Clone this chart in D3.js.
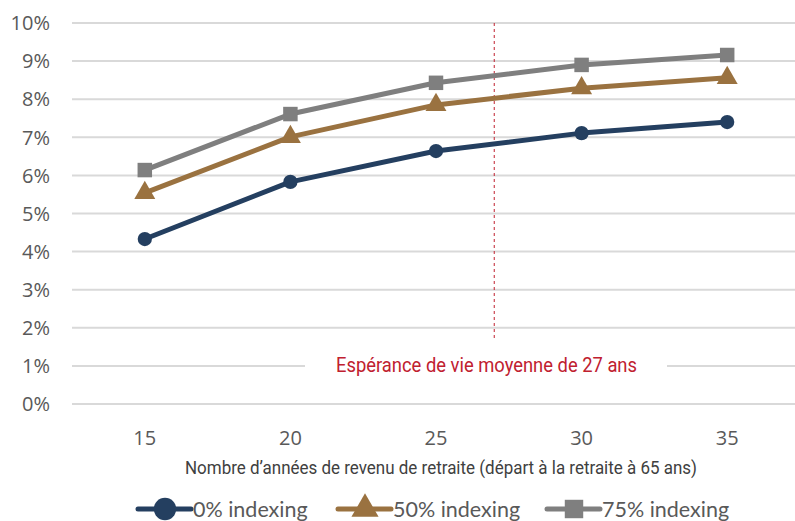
<!DOCTYPE html>
<html>
<head>
<meta charset="utf-8">
<script src="https://d3js.org/d3.v7.min.js"></script>
<style>
  body { margin: 0; background: #fff; }
  svg { display: block; }
</style>
</head>
<body>
<svg id="chart" width="795" height="521"></svg>
<script>
// data
var years = [15, 20, 25, 30, 35];
var idx0 = [4.33, 5.83, 6.64, 7.11, 7.40];
var idx50 = [5.54, 7.01, 7.85, 8.29, 8.56];
var idx75 = [6.14, 7.61, 8.43, 8.90, 9.16];
var yTicks = [0, 1, 2, 3, 4, 5, 6, 7, 8, 9, 10];
var seriesNames = ["0% indexing", "50% indexing", "75% indexing"];
var lifeExp = 27;
var lifeExpLabel = "Espérance de vie moyenne de 27 ans";
var xTitle = "Nombre d\u2019années de revenu de retraite (départ à la retraite à 65 ans)";

var svg = d3.select("#chart");
var tickFont = "'Open Sans', 'DejaVu Sans', sans-serif";
var narrowFont = "'Liberation Sans Narrow', 'Roboto', sans-serif";

var x = d3.scaleLinear().domain([12.5, 37.5]).range([72, 800]);
var y = d3.scaleLinear().domain([0, 10]).range([404, 23]);

// gridlines
svg.append("g").selectAll("line")
  .data(yTicks)
  .join("line")
  .attr("x1", x(12.5)).attr("x2", x(37.5))
  .attr("y1", d => y(d)).attr("y2", d => y(d))
  .attr("stroke", "#d9d9d9")
  .attr("stroke-width", 2);

// y labels
svg.append("g").selectAll("text")
  .data(yTicks)
  .join("text")
  .attr("x", 50)
  .attr("y", d => y(d))
  .attr("dy", "0.36em")
  .attr("text-anchor", "end")
  .style("font-family", tickFont)
  .style("font-size", "20px")
  .style("fill", "#595959")
  .text(d => d + "%");

// x labels
svg.append("g").selectAll("text")
  .data(years)
  .join("text")
  .attr("x", d => x(d))
  .attr("y", 438)
  .attr("dy", "0.36em")
  .attr("text-anchor", "middle")
  .style("font-family", tickFont)
  .style("font-size", "20px")
  .style("fill", "#595959")
  .text(d => d);

svg.append("text")
  .attr("x", 185)
  .attr("y", 468)
  .attr("dy", "0.36em")
  .attr("textLength", 512)
  .attr("lengthAdjust", "spacingAndGlyphs")
  .style("font-family", narrowFont)
  .style("font-size", "18px")
  .style("fill", "#404040")
  .text(xTitle);

// life expectancy marker
svg.append("line")
  .attr("x1", x(lifeExp)).attr("x2", x(lifeExp))
  .attr("y1", y(10)).attr("y2", 340)
  .attr("stroke", "#c0202f")
  .attr("stroke-width", 1)
  .attr("stroke-dasharray", "3,3");

var note = svg.append("g");
note.append("rect")
  .attr("x", 305).attr("y", 350)
  .attr("width", 362).attr("height", 28)
  .attr("fill", "#fff");
note.append("text")
  .attr("x", 336)
  .attr("y", 364)
  .attr("dy", "0.36em")
  .attr("textLength", 301)
  .attr("lengthAdjust", "spacingAndGlyphs")
  .style("font-family", narrowFont)
  .style("font-size", "21px")
  .style("fill", "#c0202f")
  .text(lifeExpLabel);

var series = [
  { name: seriesNames[0], values: idx0, color: "#243f60", shape: d3.symbolCircle, size: 160, legendSize: 390 },
  { name: seriesNames[1], values: idx50, color: "#9a7240", shape: d3.symbolTriangle, size: 190, legendSize: 320 },
  { name: seriesNames[2], values: idx75, color: "#7f7f7f", shape: d3.symbolSquare, size: 210, legendSize: 340 }
];

var line = d3.line()
  .x((d, i) => x(years[i]))
  .y(d => y(d));

series.forEach(function (s) {
  svg.append("path")
    .datum(s.values)
    .attr("d", line)
    .attr("fill", "none")
    .attr("stroke", s.color)
    .attr("stroke-width", 5)
    .attr("stroke-linejoin", "round");
  svg.append("g").selectAll("path")
    .data(s.values)
    .join("path")
    .attr("transform", (d, i) => "translate(" + x(years[i]) + "," + y(d) + ")")
    .attr("d", d3.symbol().type(s.shape).size(s.size))
    .attr("fill", s.color);
});

// legend
var legendX = [138, 338, 547];
var legend = svg.append("g");
series.forEach(function (s, i) {
  var g = legend.append("g").attr("transform", "translate(" + legendX[i] + ",509)");
  g.append("line")
    .attr("x1", 0).attr("x2", 53)
    .attr("stroke", s.color)
    .attr("stroke-width", 5)
    .attr("stroke-linecap", "round");
  g.append("path")
    .attr("transform", "translate(27,0)")
    .attr("d", d3.symbol().type(s.shape).size(s.legendSize))
    .attr("fill", s.color);
  g.append("text")
    .attr("x", 55)
    .attr("dy", "0.36em")
    .style("font-family", "Lato, 'Open Sans', sans-serif")
    .style("font-size", "21.5px")
    .style("fill", "#595959")
    .text(s.name);
});
</script>
</body>
</html>
